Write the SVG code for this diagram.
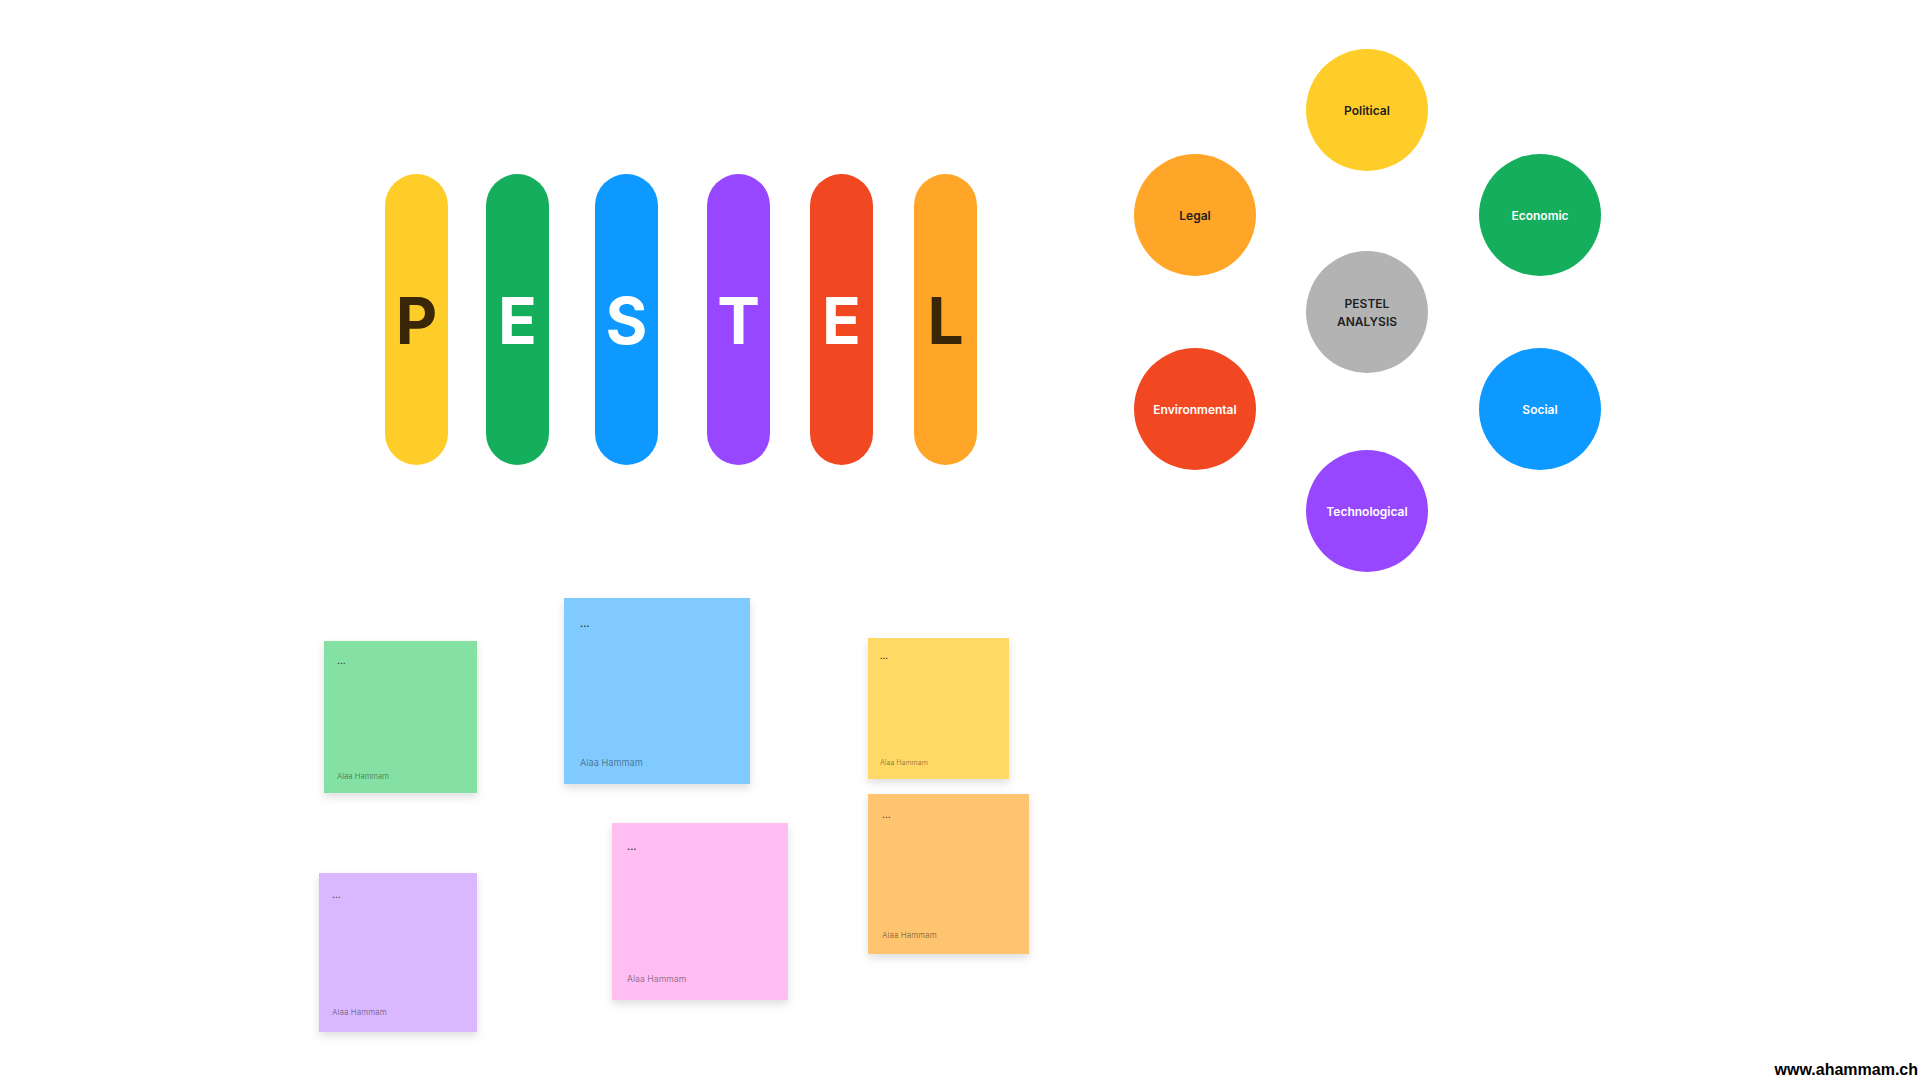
<svg xmlns="http://www.w3.org/2000/svg" width="1920" height="1080" viewBox="0 0 1920 1080">
<defs>
<filter id="sh" x="-20%" y="-20%" width="140%" height="150%">
<feDropShadow dx="0" dy="4" stdDeviation="4" flood-color="#000" flood-opacity="0.13"/>
</filter>
</defs>
<style>
.pill-letter{font-family:Inter,"Noto Sans",sans-serif;font-weight:700;font-size:64px;text-anchor:middle;dominant-baseline:central}
.lbl{font-family:Inter,"Noto Sans",sans-serif;font-weight:600;font-size:12px;text-anchor:middle;dominant-baseline:central}
.dk{fill:#1e1e1e}
.wt{fill:#ffffff}
.brown{fill:#3a2708}
.dots{font-family:Inter,"Noto Sans",sans-serif;fill:#1e1e1e}
.auth{font-family:Inter,"Noto Sans",sans-serif;fill:#000;fill-opacity:0.45}
.note{filter:url(#sh)}
.wm{font-family:"Liberation Sans",Arial,sans-serif;font-weight:700;font-size:16px;fill:#000}
</style>
<rect width="1920" height="1080" fill="#ffffff"/>

<g id="pills">
<g id="pill-P"><rect x="385" y="174" width="63" height="291" rx="31.5" fill="#FFCD29"/><text class="pill-letter brown" x="416.5" y="320">P</text></g>
<g id="pill-E1"><rect x="486" y="174" width="63" height="291" rx="31.5" fill="#14AE5C"/><text class="pill-letter wt" x="517.5" y="320">E</text></g>
<g id="pill-S"><rect x="595" y="174" width="63" height="291" rx="31.5" fill="#0D99FF"/><text class="pill-letter wt" x="626.5" y="320">S</text></g>
<g id="pill-T"><rect x="707" y="174" width="63" height="291" rx="31.5" fill="#9747FF"/><text class="pill-letter wt" x="738.5" y="320">T</text></g>
<g id="pill-E2"><rect x="810" y="174" width="63" height="291" rx="31.5" fill="#F24822"/><text class="pill-letter wt" x="841.5" y="320">E</text></g>
<g id="pill-L"><rect x="914" y="174" width="63" height="291" rx="31.5" fill="#FFA629"/><text class="pill-letter brown" x="945.5" y="320">L</text></g>
</g>

<g id="connectors"></g>

<g id="node-political"><circle cx="1367" cy="110" r="61" fill="#FFCD29"/><text class="lbl dk" x="1367" y="110">Political</text></g>
<g id="node-legal"><circle cx="1195" cy="215" r="61" fill="#FFA629"/><text class="lbl dk" x="1195" y="215">Legal</text></g>
<g id="node-economic"><circle cx="1540" cy="215" r="61" fill="#14AE5C"/><text class="lbl wt" x="1540" y="215">Economic</text></g>
<g id="node-center"><circle cx="1367" cy="312" r="61" fill="#B3B3B3"/><text class="lbl dk" x="1367" y="303">PESTEL</text><text class="lbl dk" x="1367" y="321">ANALYSIS</text></g>
<g id="node-environmental"><circle cx="1195" cy="409" r="61" fill="#F24822"/><text class="lbl wt" x="1195" y="409">Environmental</text></g>
<g id="node-social"><circle cx="1540" cy="409" r="61" fill="#0D99FF"/><text class="lbl wt" x="1540" y="409">Social</text></g>
<g id="node-technological"><circle cx="1367" cy="511" r="61" fill="#9747FF"/><text class="lbl wt" x="1367" y="511">Technological</text></g>

<g id="note-green"><rect class="note" x="324" y="641" width="153" height="152" fill="#85E0A3"/><text class="dots" x="337" y="664" font-size="10">...</text><text class="auth" x="337" y="779" font-size="7.6">Alaa Hammam</text></g>
<g id="note-blue"><rect class="note" x="564" y="598" width="186" height="186" fill="#80CAFF"/><text class="dots" x="580" y="627" font-size="11">...</text><text class="auth" x="580" y="766" font-size="9.2">Alaa Hammam</text></g>
<g id="note-yellow"><rect class="note" x="868" y="638" width="141" height="141" fill="#FFD966"/><text class="dots" x="880" y="659" font-size="9">...</text><text class="auth" x="880" y="765" font-size="7">Alaa Hammam</text></g>
<g id="note-orange"><rect class="note" x="868" y="794" width="161" height="160" fill="#FFC470"/><text class="dots" x="882" y="818" font-size="10">...</text><text class="auth" x="882" y="938" font-size="8">Alaa Hammam</text></g>
<g id="note-violet"><rect class="note" x="319" y="873" width="158" height="159" fill="#D9B8FF"/><text class="dots" x="332" y="898" font-size="10">...</text><text class="auth" x="332" y="1015" font-size="8">Alaa Hammam</text></g>
<g id="note-pink"><rect class="note" x="612" y="823" width="176" height="177" fill="#FFBDF2"/><text class="dots" x="627" y="850" font-size="11">...</text><text class="auth" x="627" y="982" font-size="8.7">Alaa Hammam</text></g>

<text class="wm" x="1918" y="1075" text-anchor="end">www.ahammam.ch</text>
</svg>
